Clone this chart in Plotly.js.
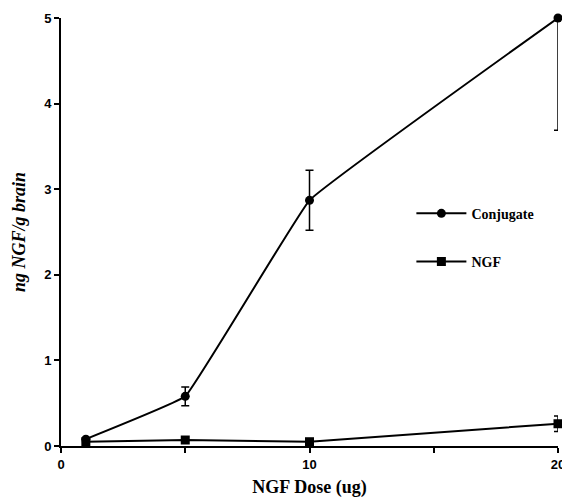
<!DOCTYPE html>
<html>
<head>
<meta charset="utf-8">
<script src="https://cdn.plot.ly/plotly-3.0.1.min.js"></script>
<style>html,body{margin:0;padding:0;background:#fff;}#chart{width:562px;height:502px;}</style>
</head>
<body>
<div id="chart"></div>
<script>
const doses = [1, 5, 10, 20];
const conjugate = [0.08, 0.58, 2.87, 5.0];
const conjugateErrPlus = [0, 0.11, 0.35, 0];
const conjugateErrMinus = [0, 0.11, 0.35, 1.31];
const ngf = [0.05, 0.07, 0.05, 0.26];
const ngfErr = [0, 0, 0, 0.09];
const xTickVals = [0, 5, 10, 15, 20];
const xTickText = ['0', '', '10', '', '20'];
const yTickVals = [0, 1, 2, 3, 4, 5];

const serif = '"Liberation Serif", "DejaVu Serif", serif';
const sans = '"Liberation Sans", Arial, sans-serif';

const traces = [
  {
    x: doses, y: conjugate, name: 'Conjugate', legendgroup: 'a', type: 'scatter', mode: 'lines+markers',
    line: {color: '#000', width: 2, shape: 'spline', smoothing: 0.2},
    marker: {symbol: 'circle', size: 9, color: '#000'},
    error_y: {type: 'data', symmetric: false, array: conjugateErrPlus, arrayminus: conjugateErrMinus,
              color: '#000', thickness: 1.5, width: 4},
    cliponaxis: false
  },
  {
    x: doses, y: ngf, name: 'NGF', legendgroup: 'b', type: 'scatter', mode: 'lines+markers',
    line: {color: '#000', width: 2},
    marker: {symbol: 'square', size: 9, color: '#000'},
    error_y: {type: 'data', array: ngfErr, color: '#000', thickness: 1.5, width: 4},
    cliponaxis: false
  }
];

const layout = {
  width: 562, height: 502,
  margin: {l: 61, r: 4, t: 18, b: 56},
  paper_bgcolor: '#fff', plot_bgcolor: '#fff',
  showlegend: true,
  legend: {x: 0.705, y: 0.58, xanchor: 'left', yanchor: 'top',
           font: {family: serif, size: 14, color: '#000', weight: 'bold'},
           bgcolor: 'rgba(0,0,0,0)', tracegroupgap: 27, itemwidth: 50},
  xaxis: {
    range: [0, 20], tickvals: xTickVals, ticktext: xTickText,
    showgrid: false, zeroline: false, showline: true, linecolor: '#000', linewidth: 2,
    ticks: 'outside', ticklen: 5, tickwidth: 2, tickcolor: '#000', ticklabeloverflow: 'allow',
    tickfont: {family: sans, size: 13, color: '#000', weight: 'bold'},
    title: {text: 'NGF Dose (ug)', font: {family: serif, size: 18, color: '#000', weight: 'bold'}, standoff: 10}
  },
  yaxis: {
    range: [0, 5], tickvals: yTickVals,
    showgrid: false, zeroline: false, showline: true, linecolor: '#000', linewidth: 2,
    ticks: 'outside', ticklen: 5, tickwidth: 2, tickcolor: '#000',
    tickfont: {family: sans, size: 13, color: '#000', weight: 'bold'},
    title: {text: '<i>ng NGF/g brain</i>', font: {family: serif, size: 18, color: '#000', weight: 'bold'}, standoff: 14}
  }
};

Plotly.newPlot('chart', traces, layout, {displayModeBar: false, staticPlot: true});
</script>
</body>
</html>
